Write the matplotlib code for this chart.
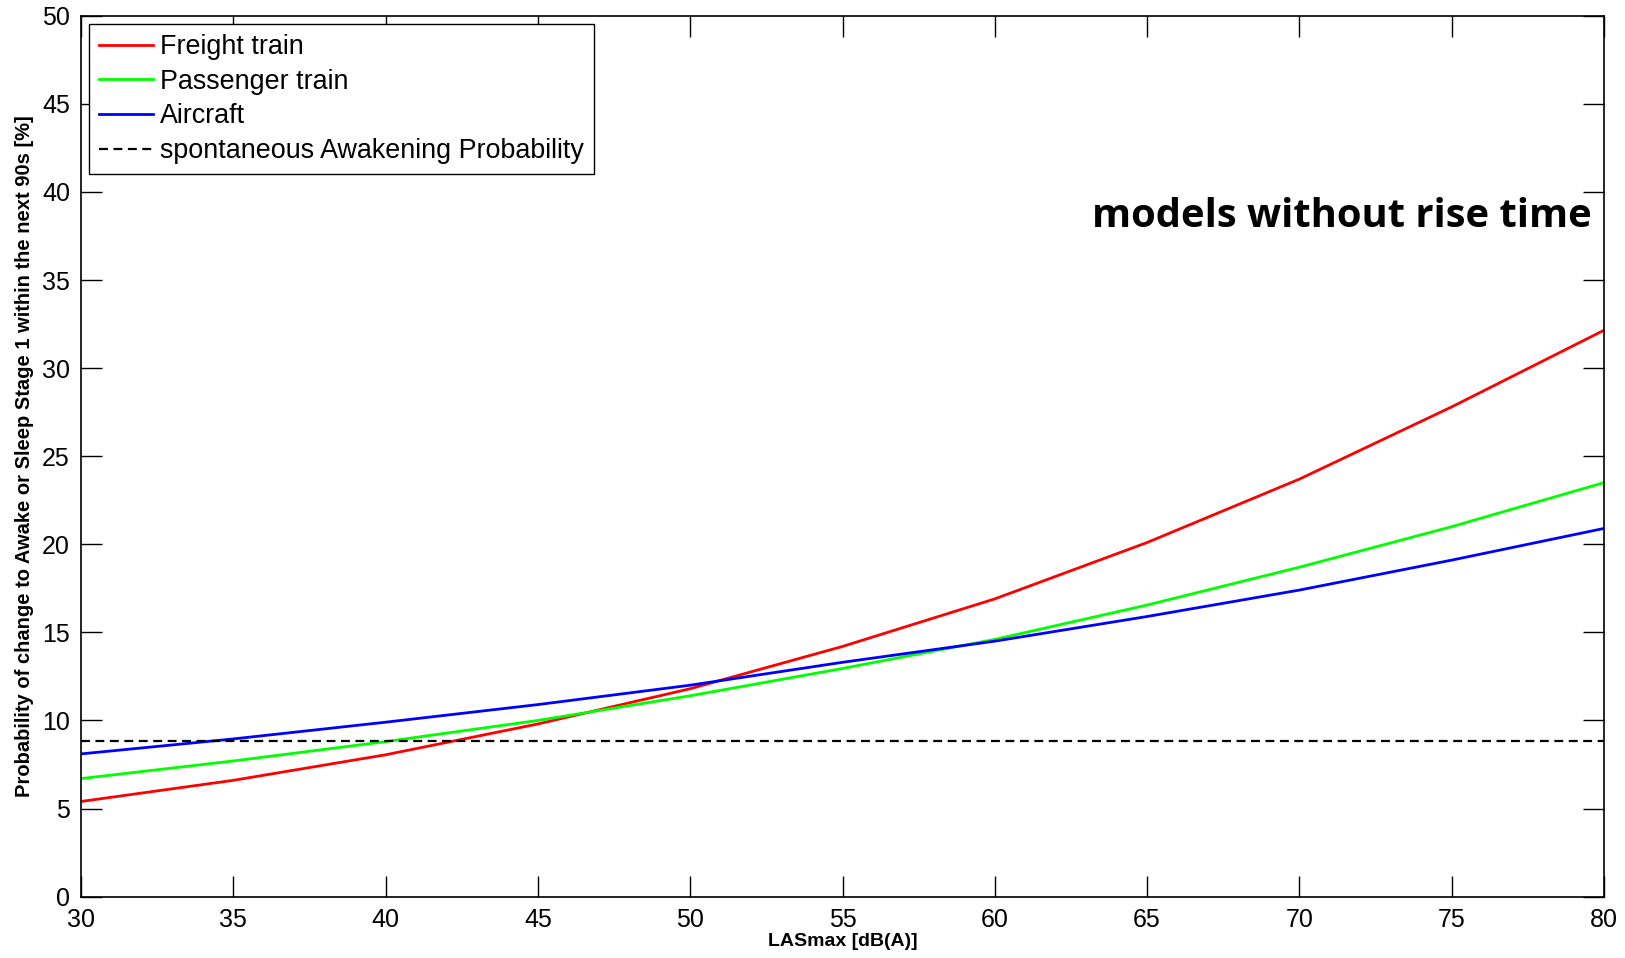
import matplotlib
matplotlib.use("Agg")
import matplotlib.pyplot as plt

x_vals = [30, 35, 40, 45, 50, 55, 60, 65, 70, 75, 80]
freight = [5.4, 6.6, 8.05, 9.8, 11.8, 14.2, 16.9, 20.1, 23.7, 27.8, 32.15]
passenger = [6.7, 7.7, 8.8, 10.0, 11.4, 12.95, 14.6, 16.55, 18.7, 21.0, 23.5]
aircraft = [8.1, 8.95, 9.9, 10.9, 12.0, 13.3, 14.5, 15.9, 17.4, 19.1, 20.9]
spontaneous = 8.85

x_ticks = [30, 35, 40, 45, 50, 55, 60, 65, 70, 75, 80]
y_ticks = [0, 5, 10, 15, 20, 25, 30, 35, 40, 45, 50]

plt.rcParams['font.family'] = ['Liberation Sans', 'DejaVu Sans']

fig = plt.figure(figsize=(16.25, 9.58), dpi=100)
ax = fig.add_axes([81/1625, 1 - 896.6/958, (1604-81)/1625, (896.6-15.8)/958])

ax.plot(x_vals, freight, color='#ff0000', lw=2, label='Freight train')
ax.plot(x_vals, passenger, color='#00ff00', lw=2, label='Passenger train')
ax.plot(x_vals, aircraft, color='#0000ff', lw=2, label='Aircraft')
ax.axhline(spontaneous, color='black', lw=1.6, ls=(0, (4, 2.5)), label='spontaneous Awakening Probability')

ax.set_xlim(30, 80)
ax.set_ylim(0, 50)
ax.set_xticks(x_ticks)
ax.set_yticks(y_ticks)
ax.tick_params(direction='in', length=15, width=1, top=True, right=True,
               labelsize=18, pad=8, colors='black')
for s in ax.spines.values():
    s.set_linewidth(1.2)

ax.set_xlabel('LASmax [dB(A)]', fontsize=14, fontweight='bold', labelpad=1)
ax.set_ylabel('Probability of change to Awake or Sleep Stage 1 within the next 90s [%]',
              fontsize=14.5, fontweight='bold', labelpad=6)

leg = ax.legend(loc='upper left', fontsize=19.4, frameon=True, fancybox=False,
                edgecolor='black', framealpha=1, borderaxespad=0.3,
                handlelength=2.0, handletextpad=0.25, labelspacing=0.32,
                borderpad=0.38)
leg.get_frame().set_linewidth(1.0)

ax.text(79.6, 38.6, 'models without rise time', ha='right', va='center',
        fontsize=28.7, fontweight='bold', family=['Open Sans', 'DejaVu Sans'])

fig.savefig('out.png', dpi=100)
